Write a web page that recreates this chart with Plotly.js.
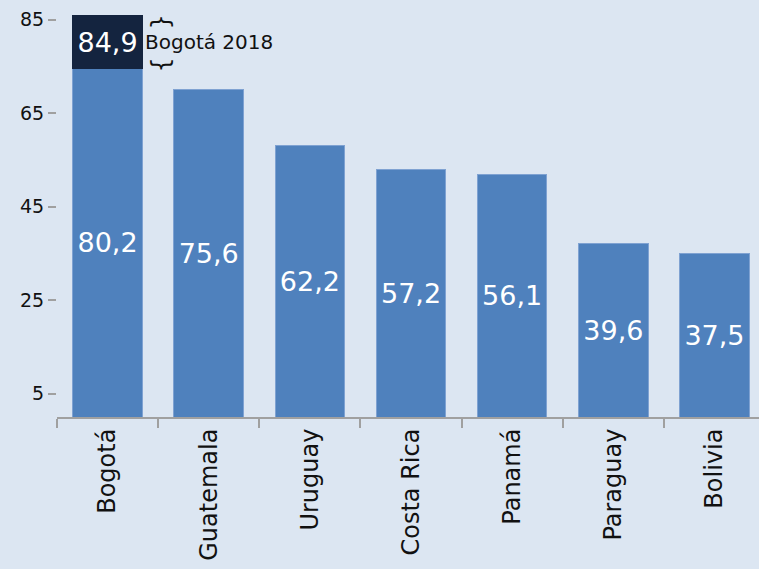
<!DOCTYPE html>
<html>
<head>
<meta charset="utf-8">
<script src="https://cdn.plot.ly/plotly-3.0.1.min.js"></script>
<style>
html,body{margin:0;padding:0;overflow:hidden;background:#dce6f2;}
#chart{width:759px;height:569px;}
</style>
</head>
<body>
<div id="chart"></div>
<script>
// Categories and values
const categories = ["Bogotá", "Guatemala", "Uruguay", "Costa Rica", "Panamá", "Paraguay", "Bolivia"];
// bar heights as drawn against the y axis
const barHeights = [74.5, 70.1, 58.0, 53.0, 51.9, 37.2, 34.9];
// value labels printed on the bars
const barLabels = ["80,2", "75,6", "62,2", "57,2", "56,1", "39,6", "37,5"];
// Bogotá 2018 segment (total height as drawn) and its label
const bogota2018Category = ["Bogotá"];
const bogota2018Total = [85.8];
const bogota2018Label = ["84,9"];
const bogota2018Note = "Bogotá 2018";
const yTickVals = [5, 25, 45, 65, 85];

const FONT = "DejaVu Sans, sans-serif";

const seg = bogota2018Total.map((t, i) => t - barHeights[categories.indexOf(bogota2018Category[i])]);

const traces = [
  {
    type: "bar",
    x: categories,
    y: barHeights,
    text: barLabels,
    textposition: "inside",
    insidetextanchor: "middle",
    textangle: 0,
    constraintext: "none",
    textfont: {family: FONT, size: 27, color: "#ffffff"},
    marker: {color: "#4f81bd", line: {color: "#7fa2d2", width: 1}},
    hoverinfo: "skip"
  },
  {
    type: "bar",
    x: bogota2018Category,
    y: seg,
    text: bogota2018Label,
    textposition: "inside",
    insidetextanchor: "middle",
    textangle: 0,
    constraintext: "none",
    textfont: {family: FONT, size: 27, color: "#ffffff"},
    marker: {color: "#14243f", line: {color: "#14243f", width: 1}},
    hoverinfo: "skip"
  }
];

const segMid = barHeights[0] + seg[0] / 2;

const layout = {
  width: 759,
  height: 569,
  margin: {l: 57, r: 0, t: 0, b: 152},
  paper_bgcolor: "#dce6f2",
  plot_bgcolor: "#dce6f2",
  barmode: "stack",
  bargap: 0.313,
  showlegend: false,
  font: {family: FONT, color: "#222222"},
  xaxis: {
    type: "category",
    range: [-0.5, 6.44],
    showline: true,
    linecolor: "#a0a0a0",
    linewidth: 2,
    ticks: "outside",
    tickson: "boundaries",
    ticklen: 9,
    tickwidth: 2,
    tickcolor: "#a0a0a0",
    tickangle: -90,
    tickfont: {family: FONT, size: 24, color: "#111111"},
    showgrid: false,
    zeroline: false,
    fixedrange: true
  },
  yaxis: {
    range: [0, 89.2],
    tickvals: yTickVals,
    ticks: "outside",
    ticklen: 8,
    tickwidth: 2,
    tickcolor: "#a0a0a0",
    tickfont: {family: FONT, size: 19, color: "#111111"},
    showline: false,
    showgrid: false,
    zeroline: false,
    fixedrange: true
  },
  annotations: [
    {
      x: bogota2018Category[0], y: segMid, xref: "x", yref: "y",
      text: bogota2018Note, showarrow: false, xanchor: "left", yanchor: "middle",
      xshift: 35, font: {family: FONT, size: 20, color: "#111111"}
    },
    {
      x: bogota2018Category[0], y: bogota2018Total[0], xref: "x", yref: "y",
      text: "{", showarrow: false, textangle: 90, xanchor: "center", yanchor: "middle",
      xshift: 55, yshift: -6, font: {family: FONT, size: 24, color: "#111111"}
    },
    {
      x: bogota2018Category[0], y: barHeights[0], xref: "x", yref: "y",
      text: "}", showarrow: false, textangle: 90, xanchor: "center", yanchor: "middle",
      xshift: 55, yshift: 4, font: {family: FONT, size: 24, color: "#111111"}
    }
  ]
};

Plotly.newPlot("chart", traces, layout, {displayModeBar: false, staticPlot: true});
</script>
</body>
</html>
